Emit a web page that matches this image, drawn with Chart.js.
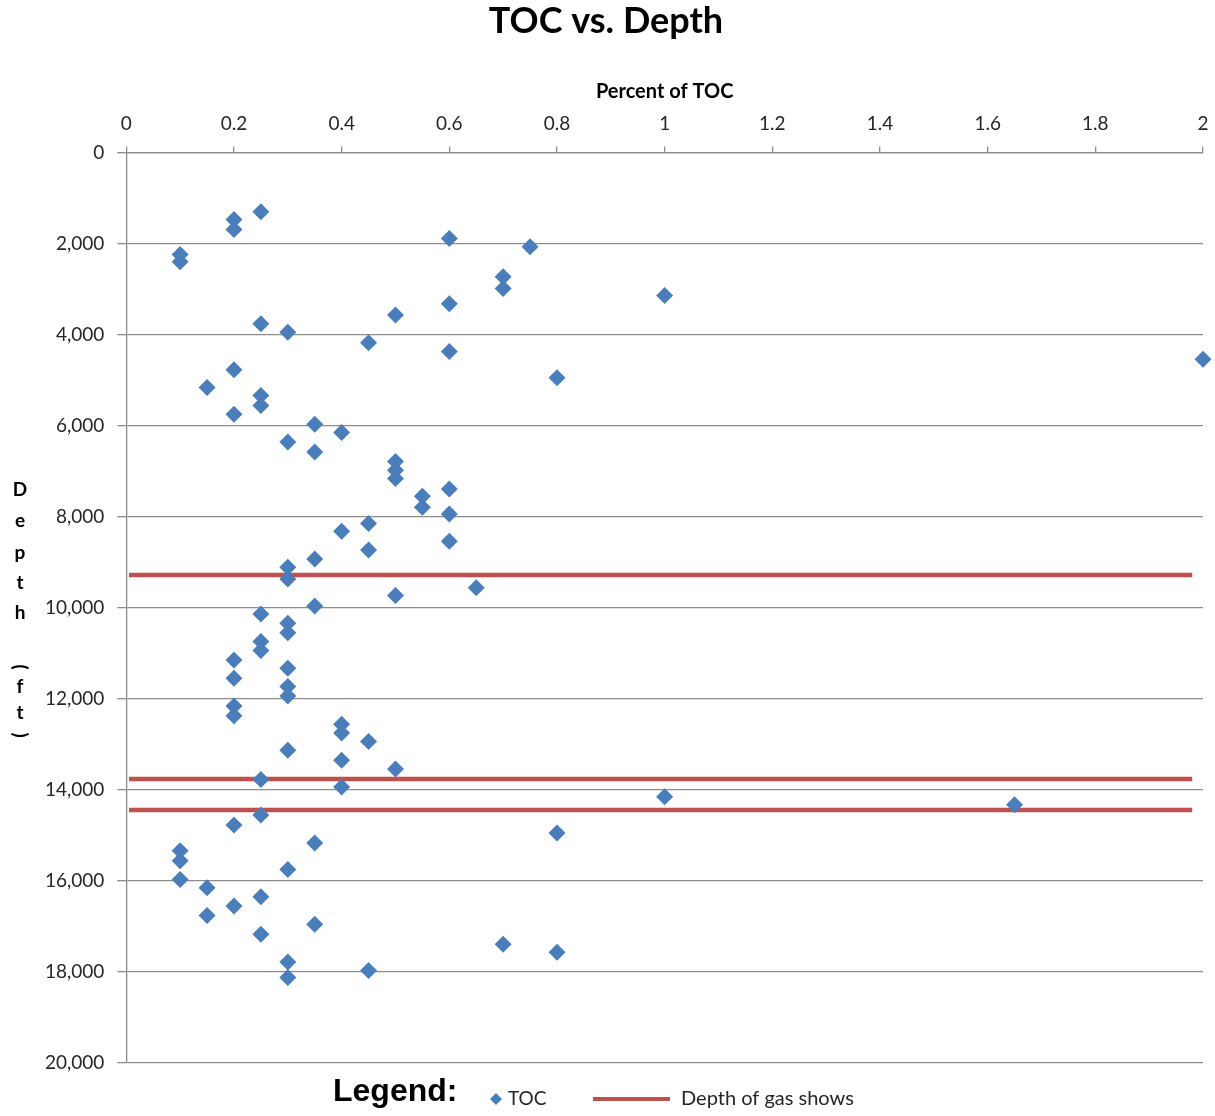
<!DOCTYPE html>
<html><head><meta charset="utf-8">
<script src="https://cdn.jsdelivr.net/npm/chart.js@4"></script>
<style>html,body{margin:0;padding:0;background:#fff;}#wrap{width:1215px;height:1116px;}</style>
</head><body><div id="wrap"><canvas id="c" width="1215" height="1116"></canvas></div>
<script>
// ---- data ----
const tocPercent = [0.25,0.2,0.2,0.6,0.75,0.1,0.1,0.7,0.7,1.0,0.6,0.5,0.25,0.3,0.45,0.6,2.0,0.2,0.8,0.15,
  0.25,0.25,0.2,0.35,0.4,0.3,0.35,0.5,0.5,0.5,0.6,0.55,0.55,0.6,0.45,0.4,0.6,0.45,0.35,0.3,
  0.3,0.65,0.5,0.35,0.25,0.3,0.3,0.25,0.25,0.2,0.3,0.2,0.3,0.3,0.2,0.2,0.4,0.4,0.45,0.3,
  0.4,0.5,0.25,0.4,1.0,1.65,0.25,0.2,0.8,0.35,0.1,0.1,0.3,0.1,0.15,0.25,0.2,0.15,0.35,0.25,
  0.7,0.8,0.3,0.45,0.3];
const tocDepth = [1300,1470,1690,1890,2070,2240,2400,2730,2990,3140,3320,3570,3760,3950,4180,4370,4540,4770,4950,5160,
  5340,5560,5750,5970,6150,6360,6580,6790,6980,7160,7390,7550,7790,7940,8150,8320,8540,8730,8930,9110,
  9370,9560,9730,9960,10140,10340,10550,10740,10940,11150,11330,11550,11730,11940,12160,12370,12560,12750,12940,13130,
  13350,13540,13770,13940,14150,14330,14550,14770,14950,15170,15340,15560,15750,15970,16150,16350,16550,16760,16950,17170,
  17390,17570,17780,17970,18120];
const gasShowDepths = [9280, 13760, 14440];
const gasLineExtent = [0.005, 1.98];
const xTickValues = [0,0.2,0.4,0.6,0.8,1,1.2,1.4,1.6,1.8,2];
const yTickValues = [0,2000,4000,6000,8000,10000,12000,14000,16000,18000,20000];
const titleText = 'TOC vs. Depth';
const xTitleText = 'Percent of TOC';
const yTitleLetters = ['D','e','p','t','h','(','f','t',')'];
const legendItems = ['TOC','Depth of gas shows'];

// ---- styles ----
const BLUE = '#4A7EBB', RED = '#C0504D', GRID = '#8c8c8c', TXT = '#262626';

const datasets = [{
  type: 'scatter',
  label: legendItems[0],
  data: tocPercent.map((v, i) => ({x: v, y: tocDepth[i]})),
  pointStyle: 'rectRot', pointRadius: 8.5, pointHoverRadius: 8.5,
  backgroundColor: BLUE, borderColor: BLUE, borderWidth: 0,
  clip: false, order: 1
}];
gasShowDepths.forEach(d => datasets.push({
  type: 'line',
  label: legendItems[1],
  data: gasLineExtent.map(x => ({x: x, y: d})),
  borderColor: RED, borderWidth: 4.5, pointRadius: 0, fill: false, order: 2
}));

const extraText = {
  id: 'extraText',
  afterDraw(chart) {
    const ctx = chart.ctx;
    ctx.save();
    // stacked y title
    ctx.fillStyle = '#000';
    ctx.font = 'bold 19px Lato';
    ctx.textAlign = 'center';
    ctx.textBaseline = 'middle';
    const ys = [490, 521, 553, 583, 613, 667, 687, 713, 735];
    yTitleLetters.forEach((ch, i) => {
      if (ch === '(' || ch === ')') {
        ctx.save();
        ctx.translate(20, ys[i]);
        ctx.rotate(Math.PI / 2);
        ctx.fillText(ch, 0, 0);
        ctx.restore();
      } else {
        ctx.fillText(ch, 20, ys[i]);
      }
    });
    // legend
    ctx.textAlign = 'left';
    ctx.textBaseline = 'alphabetic';
    ctx.font = 'bold 32px "Liberation Sans"';
    ctx.fillText('Legend:', 333, 1101);
    ctx.fillStyle = BLUE;
    ctx.beginPath();
    ctx.moveTo(496, 1093); ctx.lineTo(502, 1099); ctx.lineTo(496, 1105); ctx.lineTo(490, 1099); ctx.closePath();
    ctx.fill();
    ctx.fillStyle = TXT;
    ctx.textBaseline = 'middle';
    ctx.font = '19px Lato';
    ctx.fillText(legendItems[0], 508, 1099);
    ctx.strokeStyle = RED; ctx.lineWidth = 4;
    ctx.beginPath(); ctx.moveTo(593, 1099); ctx.lineTo(670, 1099); ctx.stroke();
    ctx.font = '20px Lato';
    ctx.fillText(legendItems[1], 681, 1099);
    ctx.restore();
  }
};

new Chart(document.getElementById('c'), {
  data: {datasets},
  options: {
    responsive: false, animation: false,
    layout: {padding: {left: 0, right: 3, top: 0, bottom: 53}},
    plugins: {
      legend: {display: false},
      tooltip: {enabled: false},
      title: {display: true, text: titleText, color: '#000',
        font: {family: 'Lato', weight: 'bold', size: 36}, padding: {top: 0, bottom: 8}}
    },
    scales: {
      x: {
        type: 'linear', position: 'top', min: 0, max: 2,
        afterBuildTicks: s => { s.ticks = xTickValues.map(v => ({value: v})); },
        afterFit: s => { s.height = 101.3; s.paddingRight = 12; s.paddingLeft = 0; },
        ticks: {color: TXT, font: {family: 'Lato', size: 19}, padding: 11,
          callback: v => String(v)},
        grid: {drawOnChartArea: false, drawTicks: true, tickLength: 6, color: GRID, lineWidth: 1.3},
        border: {display: true, color: GRID, width: 1.3},
        title: {display: true, text: xTitleText, color: '#000',
          font: {family: 'Lato', weight: 'bold', size: 20}, padding: {top: 28, bottom: 0}}
      },
      y: {
        type: 'linear', position: 'left', reverse: true, min: 0, max: 20000,
        afterBuildTicks: s => { s.ticks = yTickValues.map(v => ({value: v})); },
        afterFit: s => { s.width = 126.3; },
        ticks: {color: TXT, font: {family: 'Lato', size: 19}, padding: 13,
          callback: v => v.toLocaleString('en-US')},
        grid: {color: GRID, lineWidth: 1.3, tickLength: 9},
        border: {display: true, color: GRID, width: 1.3}
      }
    }
  },
  plugins: [extraText]
});
</script></body></html>
